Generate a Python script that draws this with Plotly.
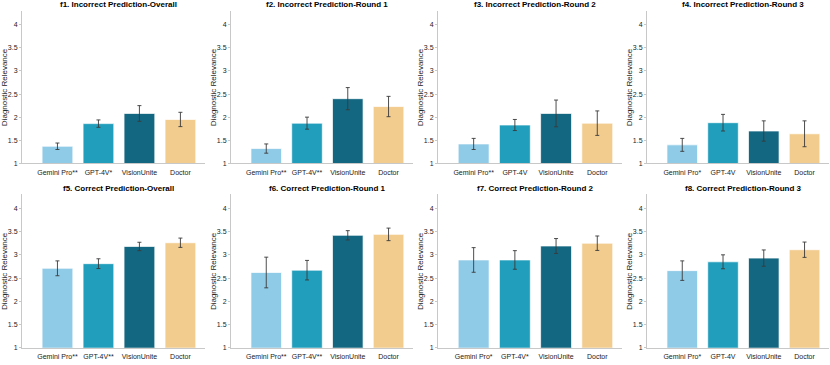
import plotly.graph_objects as go
from plotly.subplots import make_subplots

# ---- data ----
TITLES = [
    "f1. Incorrect Prediction-Overall",
    "f2. Incorrect Prediction-Round 1",
    "f3. Incorrect Prediction-Round 2",
    "f4. Incorrect Prediction-Round 3",
    "f5. Correct Prediction-Overall",
    "f6. Correct Prediction-Round 1",
    "f7. Correct Prediction-Round 2",
    "f8. Correct Prediction-Round 3",
]

LABELS = [
    ["Gemini Pro**", "GPT-4V*", "VisionUnite", "Doctor"],
    ["Gemini Pro**", "GPT-4V**", "VisionUnite", "Doctor"],
    ["Gemini Pro**", "GPT-4V", "VisionUnite", "Doctor"],
    ["Gemini Pro*", "GPT-4V", "VisionUnite", "Doctor"],
    ["Gemini Pro**", "GPT-4V**", "VisionUnite", "Doctor"],
    ["Gemini Pro**", "GPT-4V**", "VisionUnite", "Doctor"],
    ["Gemini Pro*", "GPT-4V*", "VisionUnite", "Doctor"],
    ["Gemini Pro*", "GPT-4V", "VisionUnite", "Doctor"],
]

MEANS = [
    [1.37, 1.86, 2.08, 1.95],
    [1.32, 1.87, 2.40, 2.23],
    [1.42, 1.83, 2.08, 1.87],
    [1.40, 1.88, 1.70, 1.64],
    [2.71, 2.81, 3.18, 3.26],
    [2.62, 2.67, 3.42, 3.44],
    [2.89, 2.89, 3.19, 3.25],
    [2.66, 2.85, 2.93, 3.11],
]

ERRS = [
    [0.07, 0.08, 0.17, 0.155],
    [0.10, 0.13, 0.24, 0.22],
    [0.12, 0.12, 0.29, 0.265],
    [0.14, 0.18, 0.22, 0.28],
    [0.16, 0.105, 0.09, 0.10],
    [0.33, 0.21, 0.10, 0.135],
    [0.265, 0.20, 0.16, 0.155],
    [0.21, 0.15, 0.175, 0.165],
]

Y_TICKS = [1, 1.5, 2, 2.5, 3, 3.5, 4]
Y_TICKTEXT = ["1", "1.5", "2", "2.5", "3", "3.5", "4"]
BAR_COLORS = ["#8FCAE7", "#219EBC", "#136781", "#F2CC8F"]

# ---- layout geometry (pixels) ----
W, H = 830, 365
COL_PX = [(22, 205), (231, 413), (438, 622), (647, 829)]
ROW_PX = [(11, 164.7), (196, 350.7)]   # top, bottom
X_RANGE = [0.135, 4.6]
Y_RANGE = [1, 4.3]

FONT = "Liberation Sans, Arial, Helvetica, sans-serif"

fig = make_subplots(rows=2, cols=4)

for k in range(8):
    r, c = k // 4 + 1, k % 4 + 1
    fig.add_trace(go.Bar(
        x=[1, 2, 3, 4],
        y=MEANS[k],
        width=0.75,
        marker=dict(color=BAR_COLORS,
                    line=dict(color="rgba(255,255,255,0.7)", width=1)),
        error_y=dict(type="data", array=ERRS[k], color="#3a3a3a",
                     thickness=0.9, width=2),
        showlegend=False,
    ), row=r, col=c)

    x0, x1 = COL_PX[c - 1]
    top, bot = ROW_PX[r - 1]
    fig.update_xaxes(
        domain=[x0 / W, x1 / W], range=X_RANGE,
        tickvals=[1, 2, 3, 4], ticktext=LABELS[k],
        showline=True, linecolor="#c8c8c8", linewidth=1,
        showgrid=False, zeroline=False,
        ticks="outside", ticklen=2, tickcolor="rgba(0,0,0,0)",
        tickfont=dict(size=7, color="#222222", family=FONT),
        row=r, col=c,
    )
    fig.update_yaxes(
        domain=[1 - bot / H, 1 - top / H], range=Y_RANGE,
        tickvals=Y_TICKS, ticktext=Y_TICKTEXT,
        showline=True, linecolor="#c8c8c8", linewidth=1,
        showgrid=False, zeroline=False,
        ticks="outside", ticklen=2, tickcolor="#c8c8c8",
        tickfont=dict(size=7, color="#222222", family=FONT),
        row=r, col=c,
    )

    # panel title, centred over the bars
    xc = x0 + (2.5 - X_RANGE[0]) / (X_RANGE[1] - X_RANGE[0]) * (x1 - x0)
    fig.add_annotation(
        text=f"<b>{TITLES[k]}</b>", xref="paper", yref="paper",
        x=xc / W, y=1 - (top - 6) / H, showarrow=False,
        xanchor="center", yanchor="middle",
        font=dict(size=8, color="#000000", family=FONT),
    )
    # y-axis title
    fig.add_annotation(
        text="Diagnostic Relevance", xref="paper", yref="paper",
        x=(x0 - 18) / W, y=1 - ((top + bot) / 2) / H, showarrow=False,
        textangle=-90, xanchor="center", yanchor="middle",
        font=dict(size=8, color="#222222", family=FONT),
    )

fig.update_layout(
    width=W, height=H,
    margin=dict(l=0, r=0, t=0, b=0),
    paper_bgcolor="white", plot_bgcolor="white",
    bargap=0.25,
)

# drop the default page margin so the figure sits flush in the window
fig.write_html("out.html",
               config={"displayModeBar": False},
               post_script="document.body.style.margin='0px';"
                           "document.body.style.overflow='hidden';")
